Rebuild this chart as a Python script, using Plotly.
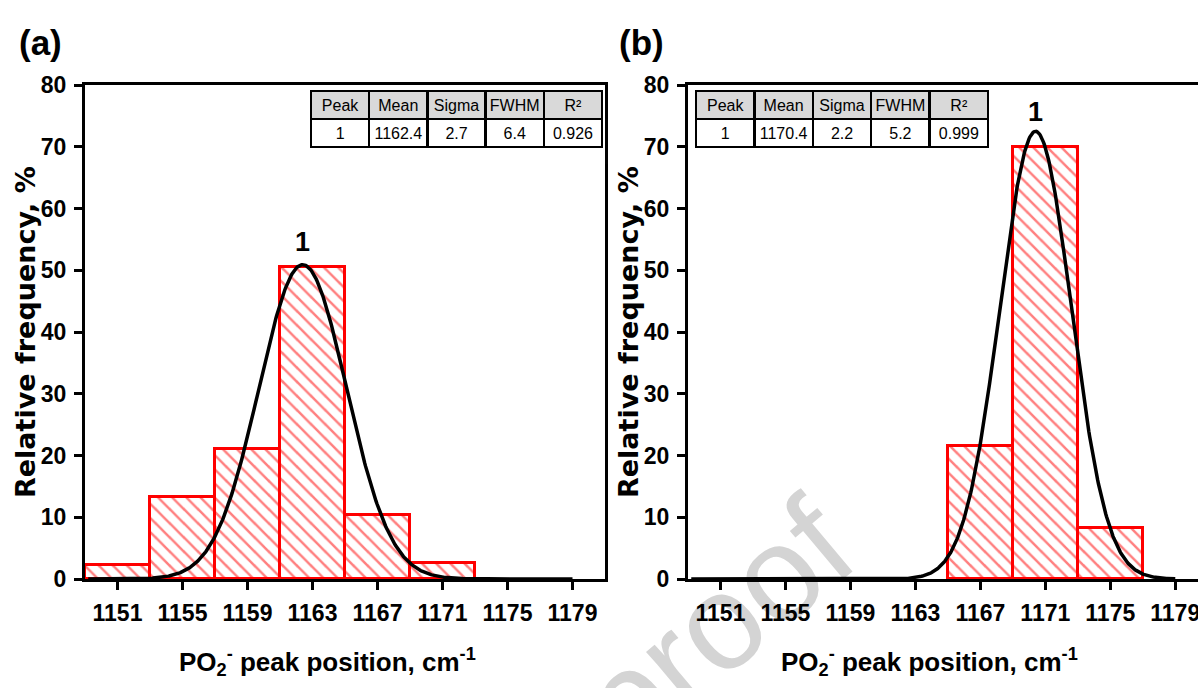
import numpy as np
import plotly.graph_objects as go

# ---------------- data ----------------
bin_width = 4
a_centers = [1151, 1155, 1159, 1163, 1167, 1171]
a_freq = [2.2, 13.2, 21.1, 50.5, 10.4, 2.6]
b_centers = [1167, 1171, 1175]
b_freq = [21.6, 70.0, 8.3]

# Gaussian fit parameters (mean, sigma, amplitude)
a_fit = {"mean": 1162.4, "sigma": 2.7, "amp": 50.9}
b_fit = {"mean": 1170.4, "sigma": 2.2, "amp": 72.5}

table_header = ["Peak", "Mean", "Sigma", "FWHM", "R²"]
a_table = ["1", "1162.4", "2.7", "6.4", "0.926"]
b_table = ["1", "1170.4", "2.2", "5.2", "0.999"]

x_ticks = [1151, 1155, 1159, 1163, 1167, 1171, 1175, 1179]
y_ticks = [0, 10, 20, 30, 40, 50, 60, 70, 80]

W, H = 1198, 688
SANS = "Liberation Sans"
WIDE = "DejaVu Sans"


def px(x):
    return x / W


def py(y):
    return 1 - y / H


def gauss(p, x):
    return p["amp"] * np.exp(-((x - p["mean"]) ** 2) / (2 * p["sigma"] ** 2))


fig = go.Figure()

for centers, freq, fit, xa, ya in [
    (a_centers, a_freq, a_fit, "x", "y"),
    (b_centers, b_freq, b_fit, "x2", "y2"),
]:
    fig.add_trace(go.Bar(
        x=centers, y=freq, width=bin_width, xaxis=xa, yaxis=ya,
        marker=dict(color="white", line=dict(color="#ff0000", width=3),
                    pattern=dict(shape="\\", fgcolor="#ff0000", bgcolor="white",
                                 size=10, solidity=0.25)),
        showlegend=False, hoverinfo="skip",
    ))
    xs = np.linspace(1149.2, 1179, 600)
    fig.add_trace(go.Scatter(
        x=xs, y=gauss(fit, xs), mode="lines", xaxis=xa, yaxis=ya,
        line=dict(color="black", width=3.5), showlegend=False, hoverinfo="skip",
    ))

# tables
for vals, x0, x1 in [(a_table, 311, 603), (b_table, 696, 988)]:
    fig.add_trace(go.Table(
        domain=dict(x=[px(x0), px(x1)], y=[py(165), py(91)]),
        columnwidth=[1, 1, 1, 1, 1],
        header=dict(values=table_header, fill_color="#d9d9d9",
                    line=dict(color="black", width=2.5), height=28,
                    align="center", font=dict(family=SANS, size=16, color="black")),
        cells=dict(values=[[v] for v in vals], fill_color="white",
                   line=dict(color="black", width=2.5), height=28,
                   align="center", font=dict(family=SANS, size=16, color="black")),
    ))

axis_common = dict(
    showline=True, linecolor="black", linewidth=3, ticks="outside", ticklen=8,
    tickwidth=2.5, tickcolor="black", showgrid=False, zeroline=False,
    tickangle=0, automargin=False, ticklabeloverflow="allow",
    tickfont=dict(family=SANS, size=23, color="black", weight="bold"),
)

fig.update_layout(
    width=W, height=H, margin=dict(l=0, r=0, t=0, b=0, autoexpand=False),
    paper_bgcolor="white", plot_bgcolor="white", bargap=0,
    xaxis=dict(domain=[px(85), px(605)], range=[1149, 1181], tickvals=x_ticks,
               anchor="y", mirror=True, ticklabelstandoff=3, **axis_common),
    yaxis=dict(domain=[py(579), py(85)], range=[0, 80], tickvals=y_ticks,
               anchor="x", mirror=True, ticklabelstandoff=3, **axis_common),
    xaxis2=dict(domain=[px(688), 1.0], range=[1149, 1180.4], tickvals=x_ticks,
                anchor="y2", mirror=True, ticklabelstandoff=3, **axis_common),
    yaxis2=dict(domain=[py(579), py(85)], range=[0, 80], tickvals=y_ticks,
                anchor="x2", mirror=False, ticklabelstandoff=3, **axis_common),
)

ann = []
# panel labels
for t, x in [("(a)", 40), ("(b)", 641)]:
    ann.append(dict(text=t, x=px(x), y=py(42), xref="paper", yref="paper",
                    xanchor="center", yanchor="middle", showarrow=False,
                    font=dict(family=SANS, size=35, color="black", weight="bold")))
# y titles
for x in [25, 628]:
    ann.append(dict(text="Relative frequency, %", x=px(x), y=py(332), xref="paper", yref="paper",
                    xanchor="center", yanchor="middle", textangle=-90, showarrow=False,
                    font=dict(family=WIDE, size=27, color="black", weight="bold")))
# x titles
for x in [327, 929]:
    ann.append(dict(text="PO<sub>2</sub><sup>-</sup> peak position, cm<sup>-1</sup>",
                    x=px(x), y=py(662), xref="paper", yref="paper",
                    xanchor="center", yanchor="middle", showarrow=False,
                    font=dict(family=SANS, size=26, color="black", weight="bold")))
# peak labels
ann.append(dict(text="1", x=a_fit["mean"], y=a_fit["amp"] + 3.7, xref="x", yref="y",
                xanchor="center", yanchor="middle", showarrow=False,
                font=dict(family=SANS, size=27, color="black", weight="bold")))
ann.append(dict(text="1", x=b_fit["mean"], y=b_fit["amp"] + 3.2, xref="x2", yref="y2",
                xanchor="center", yanchor="middle", showarrow=False,
                font=dict(family=SANS, size=27, color="black", weight="bold")))
fig.update_layout(annotations=ann)

# watermark (below the plot)
shapes = [dict(type="line", xref="paper", yref="paper", layer="below",
               x0=px(633), y0=py(683), x1=px(781), y1=py(549),
               line=dict(color="rgba(0,0,0,0)", width=0),
               label=dict(text="proof", textposition="middle", textangle=-40,
                          xanchor="center", yanchor="middle",
                          font=dict(family=SANS, size=135, color="#d4d4d4")))]
fig.update_layout(shapes=shapes)

fig.write_html("out.html")
